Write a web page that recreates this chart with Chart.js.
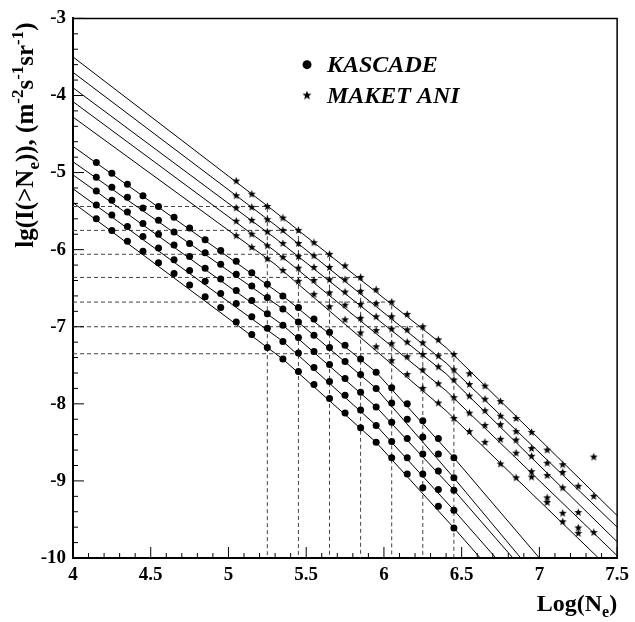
<!DOCTYPE html>
<html>
<head>
<meta charset="utf-8">
<script src="https://cdn.jsdelivr.net/npm/chart.js@4.4.1/dist/chart.umd.min.js"></script>
<style>
html, body { margin: 0; padding: 0; background: #fff; }
</style>
</head>
<body>
<canvas id="myChart" width="635" height="622"></canvas>
<script>
// KASCADE points, five series, same x grid
const kascadeX = [4.15,4.25,4.35,4.45,4.55,4.65,4.75,4.85,4.95,5.05,5.15,5.25,5.35,5.45,5.55,5.65,5.75,5.85,5.95,6.05,6.15,6.25,6.35,6.45];
const kascade1 = [-4.87,-5.01,-5.15,-5.30,-5.44,-5.58,-5.72,-5.87,-6.01,-6.15,-6.30,-6.45,-6.60,-6.75,-6.90,-7.07,-7.24,-7.42,-7.59,-7.79,-8.00,-8.22,-8.45,-8.70];
const kascade2 = [-5.06,-5.19,-5.32,-5.46,-5.62,-5.77,-5.92,-6.04,-6.19,-6.32,-6.47,-6.62,-6.77,-6.94,-7.11,-7.27,-7.45,-7.62,-7.80,-7.99,-8.20,-8.43,-8.65,-8.96];
const kascade3 = [-5.24,-5.36,-5.51,-5.66,-5.80,-5.94,-6.09,-6.24,-6.38,-6.53,-6.66,-6.83,-6.98,-7.14,-7.32,-7.49,-7.67,-7.85,-8.04,-8.24,-8.45,-8.65,-8.87,-9.12];
const kascade4 = [-5.42,-5.55,-5.70,-5.83,-5.98,-6.13,-6.27,-6.41,-6.57,-6.70,-6.87,-7.02,-7.19,-7.34,-7.53,-7.71,-7.89,-8.08,-8.28,-8.49,-8.70,-8.91,-9.11,-9.38];
const kascade5 = [-5.60,-5.75,-5.89,-6.02,-6.17,-6.31,-6.46,-6.61,-6.75,-6.94,-7.10,-7.27,-7.42,-7.58,-7.75,-7.93,-8.12,-8.31,-8.50,-8.70,-8.91,-9.09,-9.33,-9.61];

// MAKET ANI points (the last ones are missing for some series)
const maketX = [5.05,5.15,5.25,5.35,5.45,5.55,5.65,5.75,5.85,5.95,6.05,6.15,6.25,6.35,6.45,6.55,6.65,6.75,6.85,6.95,7.05,7.15,7.25,7.35];
const maket1 = [-5.11,-5.28,-5.44,-5.59,-5.75,-5.91,-6.06,-6.21,-6.36,-6.52,-6.68,-6.84,-7.00,-7.17,-7.36,-7.61,-7.77,-7.97,-8.19,-8.37,-8.60,-8.79,-9.07,-8.69];
const maket2 = [-5.30,-5.45,-5.61,-5.75,-5.92,-6.08,-6.23,-6.39,-6.54,-6.70,-6.87,-7.04,-7.21,-7.38,-7.56,-7.75,-7.94,-8.16,-8.36,-8.58,-8.77,-8.89,-9.41,-9.20];
const maket3 = [-5.46,-5.62,-5.77,-5.92,-6.09,-6.23,-6.39,-6.55,-6.71,-6.87,-7.03,-7.20,-7.36,-7.52,-7.69,-7.90,-8.09,-8.27,-8.47,-8.68,-8.93,-9.09,-9.61,-9.67];
const maket4 = [-5.63,-5.80,-5.95,-6.10,-6.24,-6.40,-6.56,-6.72,-6.89,-7.05,-7.22,-7.39,-7.56,-7.74,-7.92,-8.12,-8.28,-8.46,-8.64,-8.88,-9.22,-9.42,-9.68];
const maket5 = [-5.82,-5.97,-6.12,-6.27,-6.41,-6.58,-6.74,-6.91,-7.08,-7.26,-7.44,-7.62,-7.80,-7.99,-8.19,-8.36,-8.50,-8.78,-8.96,-8.95,-9.28,-9.53];

// fitted lines (knots)
const kascadeFitX = [
  [4.0, 5.35, 5.95, 6.45, 7.00],
  [4.0, 5.35, 5.95, 6.45, 6.88],
  [4.0, 5.35, 5.95, 6.45, 6.83],
  [4.0, 5.35, 5.95, 6.45, 6.72],
  [4.0, 5.35, 5.95, 6.45, 6.62]
];
const kascadeFitY = [
  [-4.66, -6.60, -7.59, -8.70, -10],
  [-4.86, -6.77, -7.80, -8.96, -10],
  [-5.03, -6.98, -8.04, -9.12, -10],
  [-5.21, -7.19, -8.28, -9.38, -10],
  [-5.39, -7.42, -8.50, -9.61, -10]
];
const maketFitX = [
  [4.0, 5.3, 6.4, 7.5],
  [4.0, 5.3, 6.4, 7.5],
  [4.0, 5.3, 6.4, 7.5],
  [4.0, 5.3, 6.4, 7.5],
  [4.0, 5.3, 6.4, 7.38]
];
const maketFitY = [
  [-3.50, -5.51, -7.27, -9.45],
  [-3.70, -5.68, -7.47, -9.60],
  [-3.90, -5.85, -7.61, -9.79],
  [-4.08, -6.02, -7.83, -9.97],
  [-4.28, -6.19, -8.09, -10]
];

// dashed guides: level of the upper MAKET ANI series at these sizes
const guideX = [5.25, 5.45, 5.65, 5.85, 6.05, 6.25, 6.45];
const guideY = [-5.44, -5.75, -6.06, -6.36, -6.68, -7.00, -7.35];

const xMin = 4, xMax = 7.5, yMin = -10, yMax = -3;
const xTickLabels = ['4', '4.5', '5', '5.5', '6', '6.5', '7', '7.5'];
const yTickLabels = ['-10', '-9', '-8', '-7', '-6', '-5', '-4', '-3'];

const FONT = '"Liberation Serif", "Times New Roman", serif';

function makeStar(r) {
    const c = document.createElement('canvas');
    const s = Math.ceil(r * 2) + 2;
    c.width = s; c.height = s;
    const g = c.getContext('2d');
    g.beginPath();
    for (let i = 0; i < 10; i++) {
        const rad = i % 2 ? r * 0.42 : r;
        const ang = -Math.PI / 2 + i * Math.PI / 5;
        g.lineTo(s / 2 + rad * Math.cos(ang), s / 2 + rad * Math.sin(ang));
    }
    g.closePath();
    g.fillStyle = '#000';
    g.fill();
    return c;
}
const starImg = makeStar(4.2);
const legendStar = makeStar(4.8);

const pts = (xs, ys) => ys.map((v, i) => ({x: xs[i], y: v}));

const datasets = [];
[kascade1, kascade2, kascade3, kascade4, kascade5].forEach(s => {
    datasets.push({
        label: 'KASCADE', data: pts(kascadeX, s), showLine: false,
        pointStyle: 'circle', pointRadius: 3.5, backgroundColor: '#000', borderColor: '#000', borderWidth: 0
    });
});
[maket1, maket2, maket3, maket4, maket5].forEach(s => {
    datasets.push({
        label: 'MAKET ANI', data: pts(maketX, s), showLine: false,
        pointStyle: starImg, pointRadius: 4
    });
});
kascadeFitX.concat(maketFitX).forEach((xs, i) => {
    const ys = i < 5 ? kascadeFitY[i] : maketFitY[i - 5];
    datasets.push({
        label: 'fit', data: pts(xs, ys), showLine: true, pointRadius: 0,
        borderColor: '#000', borderWidth: 1, fill: false
    });
});
guideX.forEach((gx, i) => {
    datasets.push({
        label: 'guide', data: [{x: xMin, y: guideY[i]}, {x: gx, y: guideY[i]}, {x: gx, y: yMin}],
        showLine: true, pointRadius: 0, borderColor: '#444', borderWidth: 1, borderDash: [4, 3], fill: false
    });
});

// frame, inward ticks, titles and legend
const decor = {
    id: 'decor',
    afterDraw(chart) {
        const {ctx, chartArea: a, scales: {x, y}} = chart;
        ctx.save();
        ctx.strokeStyle = '#000';
        ctx.lineWidth = 1.5;
        ctx.beginPath();
        ctx.moveTo(a.left, a.top); ctx.lineTo(a.right, a.top); ctx.lineTo(a.right, a.bottom);
        ctx.stroke();

        ctx.lineWidth = 1;
        ctx.beginPath();
        for (let k = 0; k <= 35; k++) {
            const px = x.getPixelForValue(xMin + k * 0.1);
            const len = k % 5 === 0 ? 11 : 5;
            ctx.moveTo(px, a.bottom); ctx.lineTo(px, a.bottom - len);
        }
        for (let k = 0; k <= 35; k++) {
            const py = y.getPixelForValue(yMin + k * 0.2);
            const len = k % 5 === 0 ? 11 : 5;
            ctx.moveTo(a.left, py); ctx.lineTo(a.left + len, py);
        }
        ctx.stroke();

        ctx.fillStyle = '#000';
        ctx.textBaseline = 'alphabetic';
        // parts: [text, size, shift]
        const drawParts = (parts, endX, baseY) => {
            let total = 0;
            parts.forEach(p => { ctx.font = 'bold ' + p[1] + 'px ' + FONT; total += ctx.measureText(p[0]).width; });
            let cx = endX - total;
            parts.forEach(p => {
                ctx.font = 'bold ' + p[1] + 'px ' + FONT;
                ctx.textAlign = 'left';
                ctx.fillText(p[0], cx, baseY + p[2]);
                cx += ctx.measureText(p[0]).width;
            });
        };
        // x title
        drawParts([['Log(N', 24, 0], ['e', 16, 6], [')', 24, 0]], a.right, 611);
        // y title
        ctx.save();
        ctx.translate(33, a.top);
        ctx.rotate(-Math.PI / 2);
        drawParts([
            ['lg(I(>N', 25, 0], ['e', 17, 6], [')), (m', 25, 0], ['-2', 17, -10],
            ['s', 25, 0], ['-1', 17, -10], ['sr', 25, 0], ['-1', 17, -10], [')', 25, 0]
        ], -4, 0);
        ctx.restore();

        // legend
        const lx = 307;
        const ly1 = y.getPixelForValue(-3.6), ly2 = y.getPixelForValue(-4.0);
        ctx.beginPath();
        ctx.arc(lx, ly1, 4.5, 0, Math.PI * 2);
        ctx.fill();
        ctx.drawImage(legendStar, lx - legendStar.width / 2, ly2 - legendStar.height / 2);
        ctx.font = 'italic bold 24px ' + FONT;
        ctx.textAlign = 'left';
        ctx.textBaseline = 'middle';
        ctx.fillText('KASCADE', lx + 20, ly1 + 1);
        ctx.fillText('MAKET ANI', lx + 20, ly2 + 1);
        ctx.restore();
    }
};

new Chart(document.getElementById('myChart'), {
    type: 'scatter',
    data: { datasets: datasets },
    options: {
        responsive: false,
        animation: false,
        events: [],
        layout: { padding: { top: 10, right: 13, left: 0, bottom: 0 } },
        plugins: { legend: { display: false }, tooltip: { enabled: false } },
        scales: {
            x: {
                type: 'linear', min: xMin, max: xMax,
                afterFit: s => { s.height = 64; },
                grid: { display: false, drawTicks: false },
                border: { display: true, color: '#000', width: 2 },
                ticks: {
                    stepSize: 0.5, padding: 6, color: '#000', maxRotation: 0,
                    font: { family: FONT, size: 19, weight: 'bold' },
                    callback: (v, i) => xTickLabels[i]
                }
            },
            y: {
                type: 'linear', min: yMin, max: yMax,
                afterFit: s => { s.width = 73; },
                grid: { display: false, drawTicks: false },
                border: { display: true, color: '#000', width: 2 },
                ticks: {
                    stepSize: 1, padding: 7, color: '#000',
                    font: { family: FONT, size: 19, weight: 'bold' },
                    callback: (v, i) => yTickLabels[i]
                }
            }
        }
    },
    plugins: [decor]
});
</script>
</body>
</html>
